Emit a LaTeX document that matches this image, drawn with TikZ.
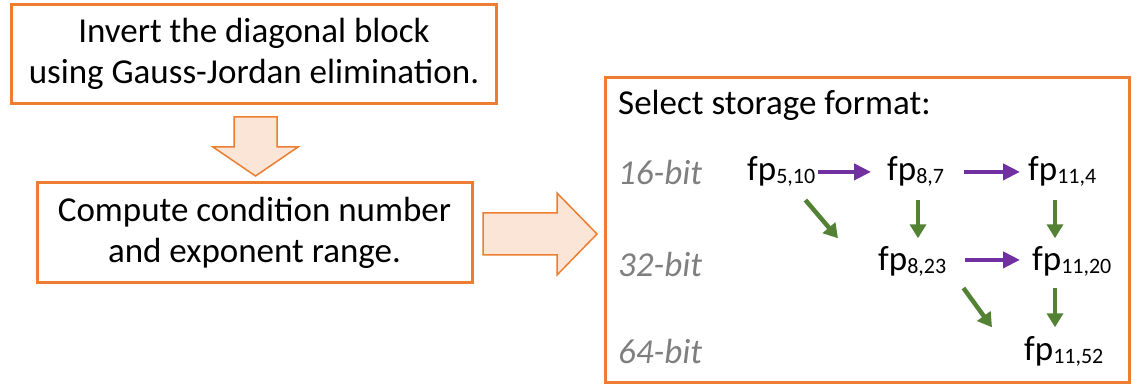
\documentclass[tikz,border=0pt]{standalone}
\usepackage{fontspec}
\setmainfont{Carlito}
\usetikzlibrary{arrows.meta}
\definecolor{boxorange}{RGB}{237,125,49}
\definecolor{arrowfill}{RGB}{251,229,214}
\definecolor{fppurple}{RGB}{112,48,160}
\definecolor{fpgreen}{RGB}{84,130,53}
\definecolor{bitgray}{RGB}{127,127,127}
\newcommand\fpsub[1]{\raisebox{-3pt}{\fontsize{22}{22}\selectfont #1}}
\tikzset{
  stepbox/.style={draw=boxorange, line width=3pt, align=center, inner sep=0pt,
    font=\fontsize{35}{41}\selectfont},
  fmt/.style={anchor=base west, inner sep=0pt, font=\fontsize{35}{41}\selectfont},
  bitlabel/.style={anchor=base west, inner sep=0pt, text=bitgray, font=\fontsize{35}{41}\selectfont\itshape},
  purplearrow/.style={draw=fppurple, line width=4pt, -{Triangle[length=17pt,width=16pt]}},
  greenarrow/.style={draw=fpgreen, line width=4.5pt, -{Triangle[length=14pt,width=16pt]}},
  blockarrow/.style={draw=boxorange, fill=arrowfill, line width=1.5pt, line join=miter}
}
\begin{document}
\begin{tikzpicture}[x=1pt,y=1pt,yscale=-1,xscale=1]
\useasboundingbox (0,0) rectangle (1138,387);

%Shape: Rectangle [invert]
\node[stepbox, minimum width=485pt, minimum height=99pt] (invert) at (254,54)
  {Invert the diagonal block\\using Gauss-Jordan elimination.};
%Shape: Down Arrow
\draw[blockarrow] (234,117) -- (277,117) -- (277,147) -- (298,147) -- (255.5,176) -- (213,147) -- (234,147) -- cycle ;
%Shape: Rectangle [condition]
\node[stepbox, minimum width=435pt, minimum height=100pt] (cond) at (254.5,233)
  {Compute condition number\\and exponent range.};
%Shape: Right Arrow
\draw[blockarrow] (483,213) -- (557,213) -- (557,193) -- (597,234) -- (557,275) -- (557,255) -- (483,255) -- cycle ;
%Shape: Rectangle [storage]
\draw[draw=boxorange, line width=3pt] (605,78) rectangle (1129,382) ;

%Text
\node[fmt] (title) at (618,115) {Select storage format:};
\node[bitlabel] (b16) at (618,185) {16-bit};
\node[bitlabel] (b32) at (618,277) {32-bit};
\node[bitlabel] (b64) at (618,363) {64-bit};

\node[fmt] (fp510) at (747,181) {fp\fpsub{5,10}};
\node[fmt] (fp87) at (887,181) {fp\fpsub{8,7}};
\node[fmt] (fp114) at (1028,181) {fp\fpsub{11,4}};
\node[fmt] (fp823) at (878,271) {fp\fpsub{8,23}};
\node[fmt] (fp1120) at (1032,271) {fp\fpsub{11,20}};
\node[fmt] (fp1152) at (1024,360) {fp\fpsub{11,52}};

%Straight Lines [purple]
\draw[purplearrow, shorten <=3pt, shorten >=16pt] (fp510.east) -- (fp510.east -| fp87.west) ;
\draw[purplearrow, shorten <=20pt, shorten >=8pt] (fp87.east) -- (fp87.east -| fp114.west) ;
\draw[purplearrow, shorten <=19pt, shorten >=12pt] ([shift={(0,-2)}]fp823.east) -- ([shift={(0,-2)}]fp823.east -| fp1120.west) ;
%Straight Lines [green]
\draw[greenarrow] ([shift={(-10,13)}]fp510.south east) -- ([shift={(-40,-8.5)}]fp823.north west) ;
\draw[greenarrow] ([shift={(31,13)}]fp87.south west) -- ([shift={(31,-8.5)}]fp87.south west |- fp823.north) ;
\draw[greenarrow] ([shift={(27,13)}]fp114.south west) -- ([shift={(27,-8.5)}]fp114.south west |- fp1120.north) ;
\draw[greenarrow] ([shift={(17,11)}]fp823.south east) -- ([shift={(-32,-8.5)}]fp1152.north west) ;
\draw[greenarrow] ([shift={(23,11)}]fp1120.south west) -- ([shift={(23,-8.5)}]fp1120.south west |- fp1152.north) ;

\end{tikzpicture}
\end{document}
